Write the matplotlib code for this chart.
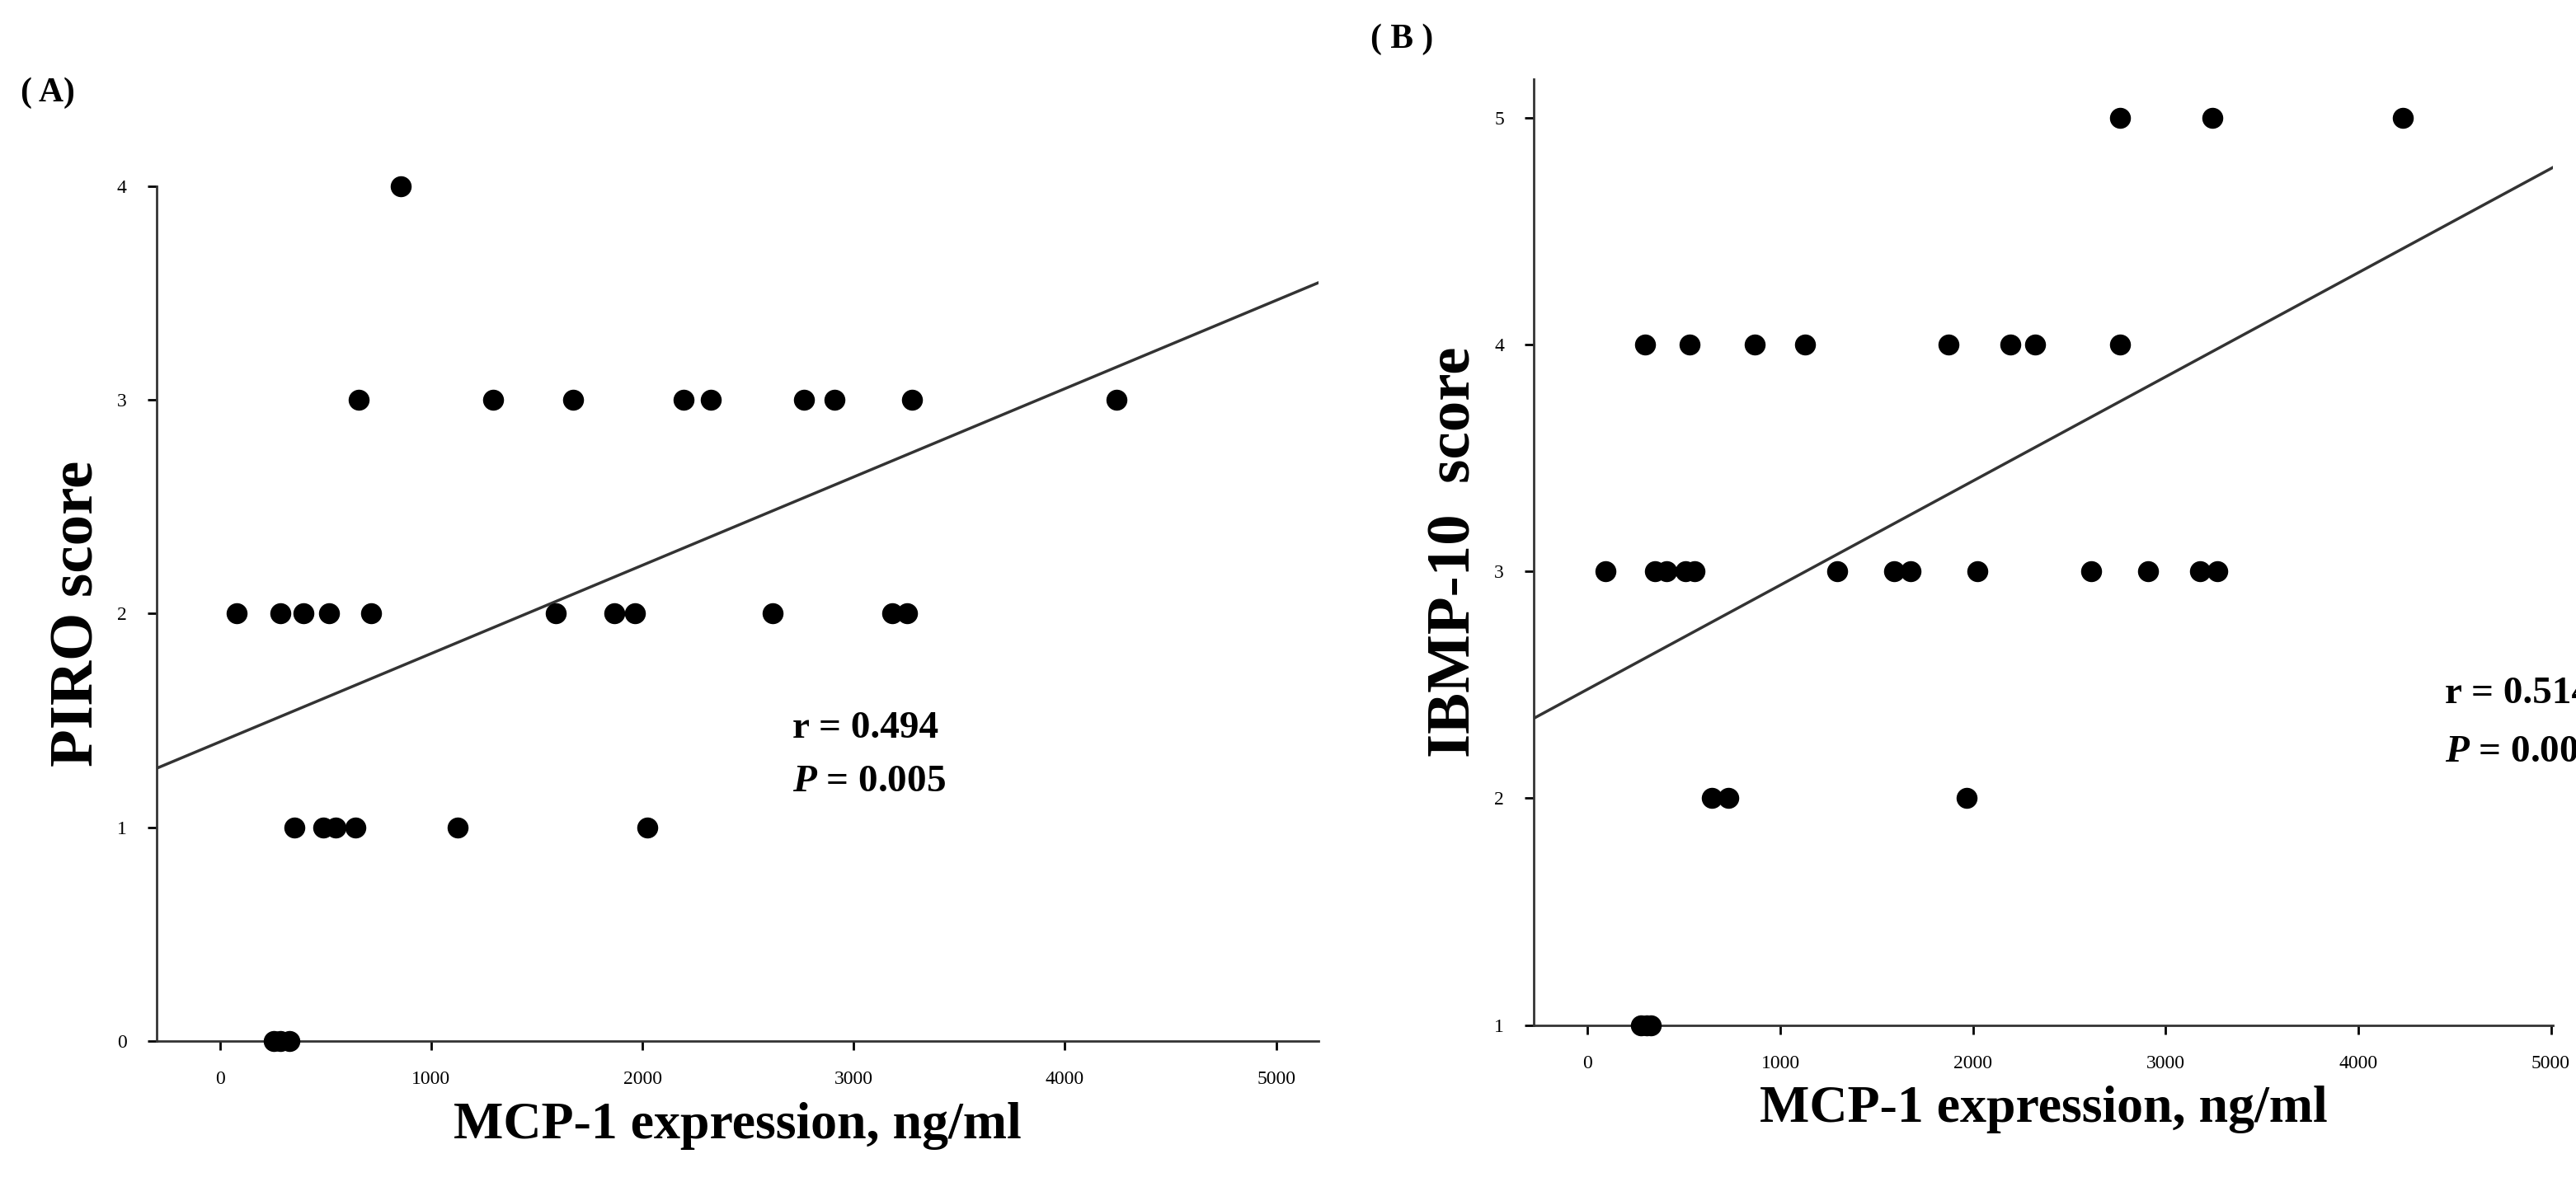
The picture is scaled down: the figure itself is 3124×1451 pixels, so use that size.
import matplotlib.pyplot as plt
import numpy as np

plt.rcParams['font.family'] = ['Liberation Serif', 'DejaVu Serif']
plt.rcParams['mathtext.fontset'] = 'custom'
plt.rcParams['mathtext.it'] = 'Liberation Serif:italic:bold'

# Panel A: PIRO score vs MCP-1
piro_x = [857, 657, 1291, 1670, 2195, 2323, 2765, 2908, 3275, 4243,
          80, 287, 394, 517, 717, 1590, 1868, 1964, 2618, 3183, 3251,
          351, 490, 546, 641, 1124, 2024,
          255, 287, 327]
piro_y = [4] + [3] * 9 + [2] * 11 + [1] * 6 + [0] * 3
piro_fit = (0.000413, 1.40)  # slope, intercept

# Panel B: IBMP-10 score vs MCP-1
ibmp_x = [2764, 3244, 4232,
          297, 528, 866, 1126, 1874, 2195, 2321, 2764,
          93, 350, 407, 508, 553, 1297, 1589, 1675, 2024, 2614, 2907, 3179, 3268,
          646, 732, 1967,
          276, 305, 329]
ibmp_y = [5] * 3 + [4] * 8 + [3] * 13 + [2] * 3 + [1] * 3
ibmp_fit = (0.000459, 2.48)

x_ticks = [0, 1000, 2000, 3000, 4000, 5000]

fig = plt.figure(figsize=(31.24, 14.51), dpi=100)
axA = fig.add_axes([0.0608, 0.1295, 0.451, 0.715])
axB = fig.add_axes([0.5954, 0.143, 0.3956, 0.791])


def style(ax, xlim, ylim, yticks):
    ax.set_xlim(*xlim)
    ax.set_ylim(*ylim)
    ax.set_xticks(x_ticks)
    ax.set_yticks(yticks)
    for s in ['top', 'right']:
        ax.spines[s].set_visible(False)
    for s in ['left', 'bottom']:
        ax.spines[s].set_linewidth(2)
        ax.spines[s].set_color('#333333')
    ax.tick_params(direction='out', length=8, width=2, labelsize=17, pad=18)


style(axA, (-300, 5200), (0, 3.88), [0, 1, 2, 3, 4])
axA.scatter(piro_x, piro_y, s=300, color='black', zorder=3, clip_on=False)
xl = np.array([-300, 5200])
axA.plot(xl, piro_fit[0] * xl + piro_fit[1], color='#333333', lw=2.5)
axA.set_ylabel('PIRO score', fontsize=54, fontweight='bold', labelpad=10)
axA.set_xlabel('MCP-1 expression, ng/ml', fontsize=46, fontweight='bold', labelpad=12)
axA.text(2710, 1.42, 'r = 0.494', fontsize=34, fontweight='semibold')
axA.text(2710, 1.17, '$P$ = 0.005', fontsize=34, fontweight='semibold')
fig.text(0.008, 0.915, '( A)', fontsize=30, fontweight='bold')

style(axB, (-280, 5010), (1, 5.17), [1, 2, 3, 4, 5])
axB.scatter(ibmp_x, ibmp_y, s=300, color='black', zorder=3, clip_on=False)
xl = np.array([-280, 5010])
axB.plot(xl, ibmp_fit[0] * xl + ibmp_fit[1], color='#333333', lw=2.5)
axB.set_ylabel('IBMP-10  score', fontsize=54, fontweight='bold', labelpad=10)
axB.set_xlabel('MCP-1 expression, ng/ml', fontsize=46, fontweight='bold', labelpad=12)
axB.text(4450, 2.42, 'r = 0.514', fontsize=34, fontweight='semibold')
axB.text(4450, 2.16, '$P$ = 0.004', fontsize=34, fontweight='semibold')
fig.text(0.532, 0.96, '( B )', fontsize=30, fontweight='bold')

fig.savefig('out.png', dpi=100)
